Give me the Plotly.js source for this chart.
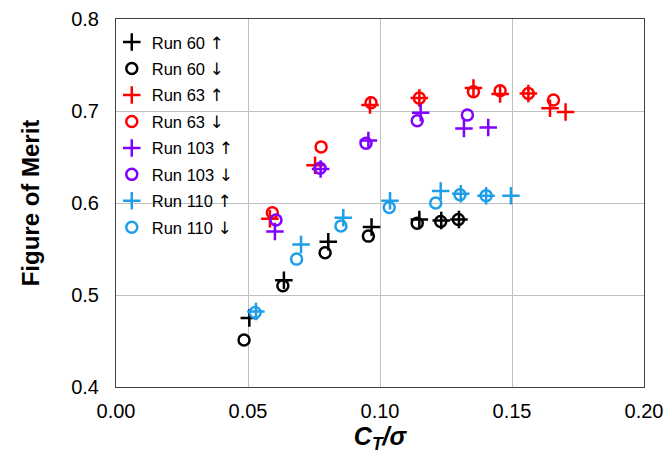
<!DOCTYPE html>
<html>
<head>
<meta charset="utf-8">
<script src="https://cdn.plot.ly/plotly-3.0.1.min.js"></script>
<style>html,body{margin:0;padding:0;background:#fff}#chart{width:665px;height:464px}</style>
</head>
<body>
<div id="chart"></div>
<script>
// Run 60
const run60UpX = [0.0505, 0.0636, 0.0804, 0.0968, 0.1149, 0.1232, 0.1299];
const run60UpY = [0.475, 0.516, 0.558, 0.574, 0.582, 0.581, 0.582];
const run60DnX = [0.0485, 0.0632, 0.0792, 0.0956, 0.1141, 0.1230, 0.1297];
const run60DnY = [0.451, 0.510, 0.546, 0.564, 0.578, 0.580, 0.582];
// Run 63
const run63UpX = [0.0583, 0.0754, 0.0962, 0.1149, 0.1354, 0.1455, 0.1562, 0.1644, 0.1703];
const run63UpY = [0.583, 0.641, 0.7065, 0.714, 0.725, 0.7185, 0.719, 0.703, 0.699];
const run63DnX = [0.0592, 0.0777, 0.0966, 0.1149, 0.1354, 0.1455, 0.1562, 0.1657];
const run63DnY = [0.5895, 0.661, 0.709, 0.714, 0.721, 0.722, 0.719, 0.712];
// Run 103
const run103UpX = [0.0602, 0.0775, 0.0956, 0.1154, 0.1318, 0.1410];
const run103UpY = [0.569, 0.637, 0.668, 0.698, 0.681, 0.682];
const run103DnX = [0.0606, 0.0773, 0.0947, 0.1141, 0.1331];
const run103DnY = [0.5815, 0.6377, 0.665, 0.6895, 0.6957];
// Run 110
const run110UpX = [0.0530, 0.0701, 0.0861, 0.1038, 0.1230, 0.1306, 0.1402, 0.1496];
const run110UpY = [0.482, 0.555, 0.584, 0.6025, 0.613, 0.610, 0.608, 0.608];
const run110DnX = [0.0527, 0.0684, 0.0852, 0.1035, 0.1211, 0.1303, 0.1402];
const run110DnY = [0.481, 0.539, 0.575, 0.595, 0.600, 0.609, 0.608];

const runLabels = ['Run 60', 'Run 60', 'Run 63', 'Run 63', 'Run 103', 'Run 103', 'Run 110', 'Run 110'];
const arrows = ['\u2191', '\u2193'];
const xTicks = [0, 0.05, 0.10, 0.15, 0.20];
const xTickLabels = ['0.00', '0.05', '0.10', '0.15', '0.20'];
const yTicks = [0.4, 0.5, 0.6, 0.7, 0.8];
const yTickLabels = ['0.4', '0.5', '0.6', '0.7', '0.8'];

const colors = ['#000000', '#000000', '#ff0000', '#ff0000', '#7f00ff', '#7f00ff', '#1e9fe8', '#1e9fe8'];
const xs = [run60UpX, run60DnX, run63UpX, run63DnX, run103UpX, run103DnX, run110UpX, run110DnX];
const ys = [run60UpY, run60DnY, run63UpY, run63DnY, run103UpY, run103DnY, run110UpY, run110DnY];

const traces = xs.map((x, i) => {
  const up = i % 2 === 0;
  return {
    type: 'scatter', mode: 'markers',
    name: runLabels[i] + ' <span style="font-family:DejaVu Sans;font-size:17px;color:#000">' + arrows[i % 2] + '</span>',
    x: x, y: ys[i],
    legendgroup: 'g' + i,
    marker: up
      ? {symbol: 'cross-thin-open', size: 12.5, color: colors[i], line: {color: colors[i], width: 2.5}}
      : {symbol: 'circle-open', size: 11, color: colors[i], line: {color: colors[i], width: 2.5}},
    cliponaxis: false
  };
});

const layout = {
  width: 665, height: 464,
  margin: {l: 116, r: 21, t: 19, b: 77},
  paper_bgcolor: '#fff', plot_bgcolor: '#fff',
  font: {family: 'Arial, Liberation Sans, sans-serif', color: '#000'},
  showlegend: true,
  legend: {x: -0.008, y: 0.984, xanchor: 'left', yanchor: 'top', bgcolor: 'rgba(0,0,0,0)',
           font: {size: 16.5, color: '#000'}, tracegroupgap: 2, itemwidth: 30,
           xref: 'paper', yref: 'paper'},
  xaxis: {range: [0, 0.2], tickvals: xTicks, ticktext: xTickLabels, showgrid: true,
          gridcolor: '#c0c0c0', gridwidth: 1, zeroline: false, showline: true, mirror: true,
          linecolor: '#404040', linewidth: 1, ticks: '', ticklabelstandoff: 6,
          tickfont: {size: 20},
          title: {text: '<b><i>C<sub>T</sub>/σ</i></b>', font: {size: 25}, standoff: 6}},
  yaxis: {range: [0.4, 0.8], tickvals: yTicks, ticktext: yTickLabels, showgrid: true,
          gridcolor: '#c0c0c0', gridwidth: 1, zeroline: false, showline: true, mirror: true,
          linecolor: '#404040', linewidth: 1, ticks: '', ticklabelstandoff: 12,
          tickfont: {size: 20},
          title: {text: '<b>Figure of Merit</b>', font: {size: 24}, standoff: 24}}
};

Plotly.newPlot('chart', traces, layout, {displayModeBar: false, staticPlot: true});
</script>
</body>
</html>
